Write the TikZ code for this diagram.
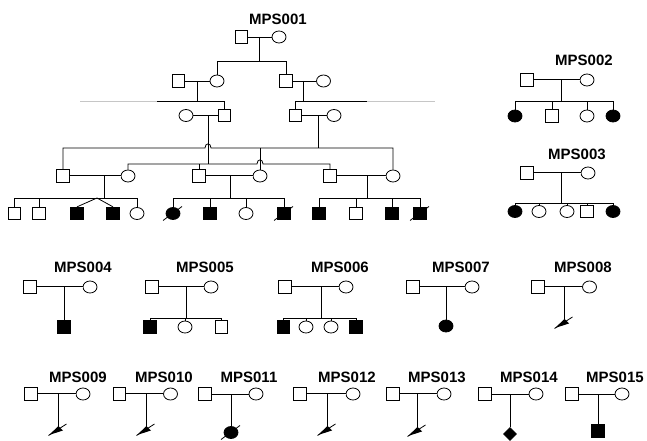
\documentclass[tikz,border=0pt]{standalone}
\usepackage{fontspec}
\setmainfont{Liberation Sans}
\usetikzlibrary{shapes}
\tikzset{
	pednode/.style = {inner sep=0pt, draw=black, line width=0.8pt},
	ped_m/.style = {pednode, rectangle, minimum size=12.5pt},% male
	ped_f/.style = {pednode, ellipse, minimum width=14pt,
		minimum height=12pt},% female
	ped_ma/.style = {ped_m, fill=black},% affected male
	ped_fa/.style = {ped_f, fill=black},% affected female
	ped_ua/.style = {pednode, diamond, fill=black, minimum width=13pt,
		minimum height=13pt},% affected, sex unknown
	ped_t/.style = {font=\fontsize{15}{15}\selectfont\bfseries},% family label
	cons/.style = {line width=0.9pt, double=white, double distance=0.9pt},% consanguineous
	extra/.style = {line width=0.9pt, gray!45}% further sibs
}

\begin{document}
\begin{tikzpicture}[x=1pt, y=-1pt, line width=0.8pt]
\useasboundingbox (0,0) rectangle (647,441);
% MPS001
\node[ped_t] (t1) at (278,19) {MPS001};
\node[ped_m] (a1) at (241.5,37) {};
\node[ped_f] (a2) at (279,37) {};
\node[ped_m] (b1) at (178.5,81) {};
\node[ped_f] (b2) at (217,81) {};
\node[ped_m] (b3) at (286,81) {};
\node[ped_f] (b4) at (323.5,81) {};
\node[ped_f] (c1) at (186,115.5) {};
\node[ped_m] (c2) at (224.5,115.5) {};
\node[ped_m] (c3) at (295.5,115.5) {};
\node[ped_f] (c4) at (334,115.5) {};
\node[ped_m] (d1) at (63,176) {};
\node[ped_f] (d2) at (128,176) {};
\node[ped_m] (d3) at (199,176) {};
\node[ped_f] (d4) at (260,176) {};
\node[ped_m] (d5) at (330,176) {};
\node[ped_f] (d6) at (393,176) {};
\node[ped_m] (e1) at (14.5,213.5) {};
\node[ped_m] (e2) at (39,213.5) {};
\node[ped_ma] (e3) at (77,213.5) {};
\node[ped_ma] (e4) at (113,213.5) {};
\node[ped_f] (e5) at (137,213.5) {};
\node[ped_fa] (e6) at (173,213.5) {};
\node[ped_ma] (e7) at (210,213.5) {};
\node[ped_f] (e8) at (246,213.5) {};
\node[ped_ma] (e9) at (284,213.5) {};
\node[ped_ma] (e10) at (319,213.5) {};
\node[ped_m] (e11) at (356,213.5) {};
\node[ped_ma] (e12) at (392,213.5) {};
\node[ped_ma] (e13) at (420,213.5) {};
\coordinate (m1) at (259,37); \coordinate (s1) at (259,61);
\coordinate (m2) at (197,81); \coordinate (s2) at (197,101);
\coordinate (m3) at (303,81); \coordinate (s3) at (303,101);
\coordinate (m4) at (208,115.5); \coordinate (s4) at (208,164);
\coordinate (m5) at (318,115.5); \coordinate (s5) at (318,148);
\coordinate (m6) at (104,176); \coordinate (s6) at (104,198);
\coordinate (m7) at (230,176); \coordinate (s7) at (230,198);
\coordinate (m8) at (367,176); \coordinate (s8) at (367,198);
\coordinate (tw) at (97,198);
\coordinate (x1) at (80,101); \coordinate (x2) at (157,101);
\coordinate (x3) at (367,101); \coordinate (x4) at (435,101);
\draw (a1) -- (a2);
\draw (m1) -- (s1);
\draw (b2) -- (b2 |- s1) -- (b3 |- s1) -- (b3);
\draw (b1) -- (b2);
\draw (b3) -- (b4);
\draw (m2) -- (s2);
\draw (m3) -- (s3);
\draw[extra] (x1) -- (x2);
\draw (x2) -- (c2 |- s2) -- (c2);
\draw (c3) -- (c3 |- s3) -- (x3);
\draw[extra] (x3) -- (x4);
\draw (c1) -- (c2);
\draw (c3) -- (c4);
\draw (m4) -- (s4);
\draw (m5) -- (s5);
\draw (d1) -- (d1 |- s5) -- (205,148) .. controls (205,142.5) and (211,142.5) .. (211,148)
	-- (d6 |- s5) -- (d6);
\draw (d4) -- (d4 |- s5);
\draw (d2) -- (d2 |- s4) -- (257,164) .. controls (257,158.5) and (263,158.5) .. (263,164)
	-- (d5 |- s4) -- (d5);
\draw (d3) -- (d3 |- s4);
\draw[cons] (d1) -- (d2);
\draw[cons] (d3) -- (d4);
\draw[cons] (d5) -- (d6);
\draw (m6) -- (s6);
\draw (e1) -- (e1 |- s6) -- (e5 |- s6) -- (e5);
\draw (e2) -- (e2 |- s6);
\draw (e3.north) -- (tw) -- (e4.north);
\draw (m7) -- (s7);
\draw (e6) -- (e6 |- s7) -- (e9 |- s7) -- (e9);
\draw (e7) -- (e7 |- s7);
\draw (e8) -- (e8 |- s7);
\draw (m8) -- (s8);
\draw (e10) -- (e10 |- s8) -- (e13 |- s8) -- (e13);
\draw (e11) -- (e11 |- s8);
\draw (e12) -- (e12 |- s8);

% MPS002, MPS003
\node[ped_t] (t2) at (584,60) {MPS002};
\node[ped_m] (f1) at (527,80) {};
\node[ped_f] (f2) at (587,80) {};
\node[ped_fa] (g1) at (515,116) {};
\node[ped_m] (g2) at (552,116) {};
\node[ped_f] (g3) at (587,116) {};
\node[ped_fa] (g4) at (613,116) {};
\coordinate (m9) at (561,80); \coordinate (s9) at (561,101);
\draw[cons] (f1) -- (f2);
\draw (m9) -- (s9);
\draw (g1) -- (g1 |- s9) -- (g4 |- s9) -- (g4);
\draw (g2) -- (g2 |- s9);
\draw (g3) -- (g3 |- s9);
\node[ped_t] (t3) at (577,154) {MPS003};
\node[ped_m] (h1) at (527,173) {};
\node[ped_f] (h2) at (588,173) {};
\node[ped_fa] (i1) at (515,211.5) {};
\node[ped_f] (i2) at (539,211.5) {};
\node[ped_f] (i3) at (567,211.5) {};
\node[ped_m] (i4) at (587,211.5) {};
\node[ped_fa] (i5) at (613,211.5) {};
\coordinate (m10) at (561,173); \coordinate (s10) at (561,203);
\draw[cons] (h1) -- (h2);
\draw (m10) -- (s10);
\draw (i1) -- (i1 |- s10) -- (i5 |- s10) -- (i5);
\draw (i2) -- (i2 |- s10);
\draw (i3) -- (i3 |- s10);
\draw (i4) -- (i4 |- s10);

% MPS004 -- MPS008
\node[ped_t] (t4) at (83,267.5) {MPS004};
\node[ped_m] (j1) at (30,287) {};
\node[ped_f] (j2) at (90,287) {};
\node[ped_ma] (k1) at (64,327) {};
\coordinate (m11) at (64,287);
\draw[cons] (j1) -- (j2);
\draw (m11) -- (k1);
\node[ped_t] (t5) at (205,267.5) {MPS005};
\node[ped_m] (j3) at (152,287) {};
\node[ped_f] (j4) at (211,287) {};
\node[ped_ma] (k2) at (150,327) {};
\node[ped_f] (k3) at (185,327) {};
\node[ped_m] (k4) at (221.5,327) {};
\coordinate (m12) at (186,287); \coordinate (s12) at (186,318);
\draw[cons] (j3) -- (j4);
\draw (m12) -- (s12);
\draw (k2) -- (k2 |- s12) -- (k4 |- s12) -- (k4);
\draw (k3) -- (k3 |- s12);
\node[ped_t] (t6) at (340,267.5) {MPS006};
\node[ped_m] (j5) at (285,287) {};
\node[ped_f] (j6) at (346,287) {};
\node[ped_ma] (k5) at (283.5,327) {};
\node[ped_f] (k6) at (306,327) {};
\node[ped_f] (k7) at (331,327) {};
\node[ped_ma] (k8) at (356,327) {};
\coordinate (m13) at (321,287); \coordinate (s13) at (321,318);
\draw[cons] (j5) -- (j6);
\draw (m13) -- (s13);
\draw (k5) -- (k5 |- s13) -- (k8 |- s13) -- (k8);
\draw (k6) -- (k6 |- s13);
\draw (k7) -- (k7 |- s13);
\node[ped_t] (t7) at (461,267.5) {MPS007};
\node[ped_m] (j7) at (413,287) {};
\node[ped_f] (j8) at (472,287) {};
\node[ped_fa] (k9) at (446,326) {};
\coordinate (m14) at (446,287);
\draw[cons] (j7) -- (j8);
\draw (m14) -- (k9);
\node[ped_t] (t8) at (583,267.5) {MPS008};
\node[ped_m] (j9) at (538,287) {};
\node[ped_f] (j10) at (589.5,287) {};
\coordinate (m15) at (564,287); \coordinate (k10) at (564,320);
\draw[cons] (j9) -- (j10);
\draw (m15) -- (k10);

% MPS009 -- MPS015
\node[ped_t] (t9) at (78,377) {MPS009};
\node[ped_m] (n1) at (31,394) {};
\node[ped_f] (n2) at (83,394) {};
\coordinate (m16) at (58,394); \coordinate (p1) at (58,427);
\draw[cons] (n1) -- (n2);
\draw (m16) -- (p1);
\node[ped_t] (t10) at (164,377) {MPS010};
\node[ped_m] (n3) at (119.5,394) {};
\node[ped_f] (n4) at (170.5,394) {};
\coordinate (m17) at (146,394); \coordinate (p2) at (146,427);
\draw[cons] (n3) -- (n4);
\draw (m17) -- (p2);
\node[ped_t] (t11) at (249,377) {MPS011};
\node[ped_m] (n5) at (205,394) {};
\node[ped_f] (n6) at (256,394) {};
\node[ped_fa] (p3) at (231,432.5) {};
\coordinate (m18) at (231,394);
\draw (n5) -- (n6);
\draw (m18) -- (p3);
\node[ped_t] (t12) at (347,377) {MPS012};
\node[ped_m] (n7) at (300,394) {};
\node[ped_f] (n8) at (353,394) {};
\coordinate (m19) at (327,394); \coordinate (p4) at (327,427);
\draw[cons] (n7) -- (n8);
\draw (m19) -- (p4);
\node[ped_t] (t13) at (437,377) {MPS013};
\node[ped_m] (n9) at (393,394) {};
\node[ped_f] (n10) at (444,394) {};
\coordinate (m20) at (417,394); \coordinate (p5) at (417,428);
\draw[cons] (n9) -- (n10);
\draw (m20) -- (p5);
\node[ped_t] (t14) at (529,377) {MPS014};
\node[ped_m] (n11) at (485,394) {};
\node[ped_f] (n12) at (536,394) {};
\node[ped_ua] (p6) at (510,434) {};
\coordinate (m21) at (510,394);
\draw (n11) -- (n12);
\draw (m21) -- (p6);
\node[ped_t] (t15) at (615,377) {MPS015};
\node[ped_m] (n13) at (572,394) {};
\node[ped_f] (n14) at (622,394) {};
\node[ped_ma] (p7) at (598,431) {};
\coordinate (m22) at (598,394);
\draw (n13) -- (n14);
\draw (m22) -- (p7);

% miscarriages and deceased
\foreach \p in {k10,p1,p2,p4,p5} {
	\fill (\p) ++(0.5,-1) -- ++(-9.5,9) -- ++(14,-4.5) -- cycle;
	\draw (\p) ++(-9.5,8.5) -- ++(18,-11.5);
}
\foreach \n in {e6,e9,e13,p3}
	\draw (\n.center) ++(-10,7) -- ++(19,-14);
\end{tikzpicture}
\end{document}
